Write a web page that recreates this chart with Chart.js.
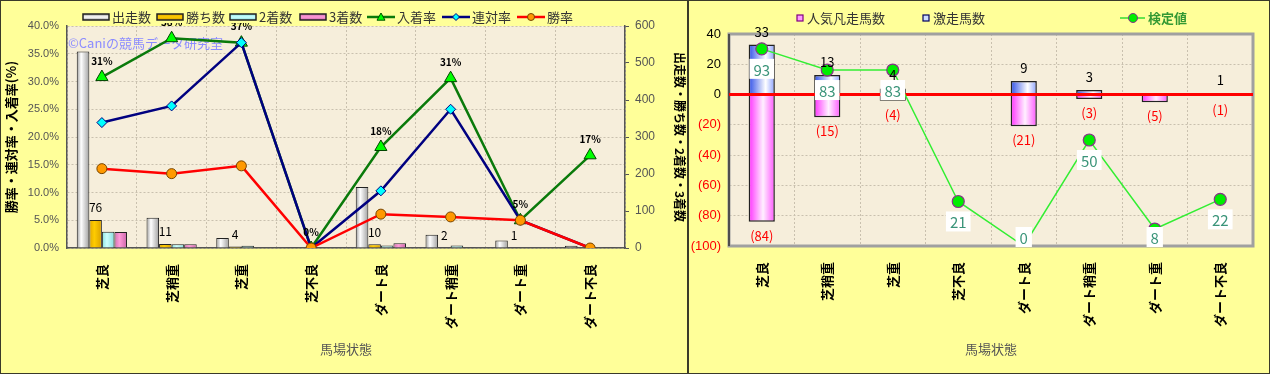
<!DOCTYPE html>
<html>
<head>
<meta charset="utf-8">
<script src="https://cdn.jsdelivr.net/npm/chart.js@4/dist/chart.umd.min.js"></script>
<style>
body { margin: 0; width: 1270px; height: 374px; overflow: hidden; background: #fff; }
.panel { position: absolute; top: 0; height: 372px; border: 1px solid #3a3a2a; background: #ffff99; }
#p1 { left: 0; width: 686px; }
#p2 { left: 688px; width: 580px; }
canvas { display: block; }
</style>
</head>
<body>
<div class="panel" id="p1"><canvas id="leftChart" width="686" height="372"></canvas></div>
<div class="panel" id="p2"><canvas id="rightChart" width="580" height="372"></canvas></div>
<script>
// 馬場状態ごとの成績
const categories = ["芝良", "芝稍重", "芝重", "芝不良", "ダート良", "ダート稍重", "ダート重", "ダート不良"]
const starters = [531, 82, 27, 2, 165, 36, 20, 6]
const wins = [76, 11, 4, 0, 10, 2, 1, 0]
const seconds = [44, 10, 6, 0, 7, 7, 0, 0]
const thirds = [43, 10, 0, 0, 13, 2, 0, 1]
const placeRate = [30.8, 37.8, 37.0, 0, 18.2, 30.6, 5.0, 16.7]
const quinellaRate = [22.6, 25.6, 37.0, 0, 10.3, 25.0, 5.0, 0]
const winRate = [14.3, 13.4, 14.8, 0, 6.1, 5.6, 5.0, 0]

// 激走 / 人気凡走 / 検定値
const upsetCount = [33, 13, 4, 0, 9, 3, 0, 1]
const favFailCount = [-84, -15, -4, 0, -21, -3, -5, -1]
const testValue = [93, 83, 83, 21, 0, 50, 8, 22]

Chart.defaults.animation = false
Chart.defaults.font.family = '"Liberation Sans", "Noto Sans CJK JP", sans-serif'
const JP = '"Noto Sans CJK JP", "Liberation Sans", sans-serif'

const plotBg = "#f6eedb"
const gridColor = "#c9c0ae"

// horizontal "cylinder" gradient for a bar, computed from the category scale
function barFill(slot, nSlots, frac, stops) {
  return (c) => {
    const chart = c.chart
    const xs = chart.scales.x
    if (c.type !== "data" || !xs) return stops[1][1]
    const cw = xs.width / categories.length
    const group = cw * frac
    const bw = group / nSlots
    const left = xs.getPixelForValue(c.dataIndex) - group / 2 + slot * bw
    if (!isFinite(left) || !isFinite(bw) || bw <= 0) return stops[1][1]
    const g = chart.ctx.createLinearGradient(left, 0, left + bw, 0)
    stops.forEach(([o, col]) => g.addColorStop(o, col))
    return g
  }
}

const greyStops = [[0, "#9a9a9a"], [0.35, "#ffffff"], [1, "#a0a0a0"]]
const goldStops = [[0, "#e0a800"], [0.4, "#ffcc00"], [1, "#d9a000"]]
const cyanStops = [[0, "#88e0e0"], [0.4, "#ccffff"], [1, "#88dddd"]]
const pinkStops = [[0, "#d070b0"], [0.4, "#ff9ad8"], [1, "#cc66aa"]]
const blueStops = [[0, "#3050e8"], [0.65, "#ffffff"], [1, "#8aa0ff"]]
const magStops = [[0, "#ff30ff"], [0.55, "#fff0ff"], [1, "#ff55ff"]]

const plotBackground = {
  id: "plotBackground",
  beforeDraw(chart) {
    const { ctx, chartArea: a } = chart
    ctx.save()
    ctx.fillStyle = plotBg
    ctx.fillRect(a.left, a.top, a.right - a.left, a.bottom - a.top)
    ctx.restore()
  },
}

function drawLineMarker(ctx, style, x, y, r, fill, stroke) {
  ctx.fillStyle = fill
  ctx.strokeStyle = stroke
  ctx.lineWidth = 1
  ctx.beginPath()
  if (style === "triangle") {
    ctx.moveTo(x, y - r)
    ctx.lineTo(x + r, y + r * 0.8)
    ctx.lineTo(x - r, y + r * 0.8)
    ctx.closePath()
  } else if (style === "diamond") {
    ctx.moveTo(x, y - r)
    ctx.lineTo(x + r, y)
    ctx.lineTo(x, y + r)
    ctx.lineTo(x - r, y)
    ctx.closePath()
  } else {
    ctx.arc(x, y, r, 0, Math.PI * 2)
  }
  ctx.fill()
  ctx.stroke()
}

// ---- left chart ----
const leftExtras = {
  id: "leftExtras",
  beforeDatasetsDraw(chart) {
    const { ctx, chartArea: a } = chart
    ctx.save()
    ctx.font = "13px " + JP
    ctx.fillStyle = "#8c8cff"
    ctx.textBaseline = "middle"
    ctx.fillText("©Caniの競馬データ研究室", a.left + 1, 42)
    ctx.restore()
  },
  afterDatasetsDraw(chart) {
    const ctx = chart.ctx
    ctx.save()
    ctx.textAlign = "center"
    ctx.textBaseline = "middle"
    ctx.fillStyle = "#000"
    // 勝ち数 labels
    ctx.font = "12px " + JP
    chart.getDatasetMeta(1).data.forEach((el, i) => {
      if (wins[i] > 0) ctx.fillText(String(wins[i]), el.x, el.y - 12)
    })
    // 入着率 labels
    ctx.font = "bold 10px " + JP
    chart.getDatasetMeta(4).data.forEach((el, i) => {
      ctx.fillText(Math.round(placeRate[i]) + "%", el.x, el.y - 16)
    })
    ctx.restore()
  },
  afterDraw(chart) {
    const ctx = chart.ctx
    ctx.save()
    ctx.fillStyle = "#ffff99"
    ctx.fillRect(78, 6, 498, 16)
    const y = 16
    const bars = [
      ["出走数", 82, greyStops],
      ["勝ち数", 156, goldStops],
      ["2着数", 229, cyanStops],
      ["3着数", 299, pinkStops],
    ]
    ctx.font = "13px " + JP
    ctx.textBaseline = "middle"
    bars.forEach(([t, x, stops]) => {
      const g = ctx.createLinearGradient(0, y - 3, 0, y + 3)
      g.addColorStop(0, stops[0][1])
      g.addColorStop(0.5, stops[1][1])
      g.addColorStop(1, stops[2][1])
      ctx.fillStyle = g
      ctx.fillRect(x, y - 3, 26, 6)
      ctx.strokeStyle = "#222"
      ctx.lineWidth = 1.5
      ctx.strokeRect(x, y - 3, 26, 6)
      ctx.fillStyle = "#333"
      ctx.fillText(t, x + 29, y)
    })
    const lines = [
      ["入着率", 366, "#0a7a0a", "triangle", "#00ff00", "#005500", 4],
      ["連対率", 441, "#000080", "diamond", "#00ffff", "#000080", 3.5],
      ["勝率", 516, "#ff0000", "circle", "#ff9900", "#774400", 3.5],
    ]
    lines.forEach(([t, x, col, st, fill, stroke, r]) => {
      ctx.strokeStyle = col
      ctx.lineWidth = 2.5
      ctx.beginPath()
      ctx.moveTo(x, y)
      ctx.lineTo(x + 28, y)
      ctx.stroke()
      drawLineMarker(ctx, st, x + 14, y, r, fill, stroke)
      ctx.fillStyle = "#333"
      ctx.fillText(t, x + 30, y)
    })
    ctx.restore()
  },
}

const leftCat = 0.72
const barBase = { type: "bar", yAxisID: "y2", order: 10, borderColor: "#222", borderWidth: 1, barPercentage: 1, categoryPercentage: leftCat }

new Chart(document.getElementById("leftChart"), {
  type: "bar",
  data: {
    labels: categories,
    datasets: [
      { ...barBase, label: "出走数", data: starters, backgroundColor: barFill(0, 4, leftCat, greyStops) },
      { ...barBase, label: "勝ち数", data: wins, backgroundColor: barFill(1, 4, leftCat, goldStops) },
      { ...barBase, label: "2着数", data: seconds, backgroundColor: barFill(2, 4, leftCat, cyanStops) },
      { ...barBase, label: "3着数", data: thirds, backgroundColor: barFill(3, 4, leftCat, pinkStops) },
      {
        type: "line", label: "入着率", data: placeRate, yAxisID: "y", order: 3,
        borderColor: "#0a7a0a", borderWidth: 2.5, tension: 0,
        pointStyle: "triangle", pointRadius: 7, pointBackgroundColor: "#00ff00", pointBorderColor: "#004400", pointBorderWidth: 1,
      },
      {
        type: "line", label: "連対率", data: quinellaRate, yAxisID: "y", order: 2,
        borderColor: "#000080", borderWidth: 2.5, tension: 0,
        pointStyle: "rectRot", pointRadius: 5, pointBackgroundColor: "#00ffff", pointBorderColor: "#000080", pointBorderWidth: 1,
      },
      {
        type: "line", label: "勝率", data: winRate, yAxisID: "y", order: 1,
        borderColor: "#ff0000", borderWidth: 2.5, tension: 0,
        pointStyle: "circle", pointRadius: 5, pointBackgroundColor: "#ff9900", pointBorderColor: "#774400", pointBorderWidth: 1,
      },
    ],
  },
  options: {
    responsive: false,
    devicePixelRatio: 1,
    layout: { padding: { top: 25, left: 0, right: 0, bottom: 0 } },
    plugins: { legend: { display: false }, tooltip: { enabled: false } },
    scales: {
      x: {
        grid: { color: gridColor, drawTicks: false },
        border: { color: "#555", width: 1.5, dash: [2, 2] },
        ticks: { autoSkip: false, minRotation: 90, maxRotation: 90, padding: 16, color: "#000", font: { family: JP, size: 13, weight: "bold" } },
        title: { display: true, text: "馬場状態", color: "#555", font: { family: JP, size: 13 }, padding: { top: 0, bottom: 16 } },
        afterFit: (s) => { s.height = 125 },
      },
      y: {
        position: "left",
        min: 0, max: 40,
        grid: { color: gridColor, drawTicks: false },
        border: { color: "#555", width: 1.5, dash: [2, 2] },
        ticks: { stepSize: 5, padding: 8, color: "#555", font: { size: 11 }, callback: (v) => v.toFixed(1) + "%" },
        title: { display: true, text: "勝率・連対率・入着率(%)", color: "#000", font: { family: JP, size: 13, weight: "bold" }, padding: { top: 2, bottom: 0 } },
        afterFit: (s) => { s.width = 66 },
      },
      y2: {
        position: "right",
        min: 0, max: 600,
        grid: { drawOnChartArea: false, tickLength: 4, color: "#555" },
        border: { color: "#555", width: 1.5 },
        ticks: { stepSize: 100, padding: 6, color: "#555", font: { size: 12 } },
        title: { display: true, text: "出走数・勝ち数・2着数・3着数", color: "#000", font: { family: JP, size: 12, weight: "bold" }, padding: { top: 0, bottom: 4 } },
        afterFit: (s) => { s.width = 62 },
      },
    },
  },
  plugins: [plotBackground, leftExtras],
})

// ---- right chart ----
const rightExtras = {
  id: "rightExtras",
  beforeDatasetsDraw(chart) {
    const { ctx, chartArea: a } = chart
    ctx.save()
    ctx.strokeStyle = "#a0a0a0"
    ctx.lineWidth = 3
    ctx.strokeRect(a.left, a.top, a.right - a.left, a.bottom - a.top)
    ctx.strokeStyle = "#333"
    ctx.lineWidth = 1.5
    ctx.beginPath()
    ctx.moveTo(a.left, a.top)
    ctx.lineTo(a.left, a.bottom)
    ctx.stroke()
    ctx.restore()
  },
  beforeDatasetDraw(chart, args) {
    if (args.meta.type !== "line") return
    const { ctx, chartArea: a } = chart
    const y0 = chart.scales.y.getPixelForValue(0)
    ctx.save()
    ctx.strokeStyle = "#ff0000"
    ctx.lineWidth = 3
    ctx.beginPath()
    ctx.moveTo(a.left, y0)
    ctx.lineTo(a.right, y0)
    ctx.stroke()
    ctx.restore()
  },
  afterDatasetsDraw(chart) {
    const { ctx, chartArea: a } = chart
    ctx.save()
    ctx.textAlign = "center"
    ctx.textBaseline = "middle"
    ctx.font = "13px " + JP
    chart.getDatasetMeta(2).data.forEach((el, i) => {
      if (upsetCount[i] > 0) {
        ctx.fillStyle = "#000"
        ctx.fillText(String(upsetCount[i]), el.x, el.y - 13)
      }
    })
    chart.getDatasetMeta(1).data.forEach((el, i) => {
      if (favFailCount[i] < 0) {
        ctx.fillStyle = "#ff0000"
        ctx.fillText("(" + (-favFailCount[i]) + ")", el.x, el.y + 14)
      }
    })
    ctx.font = "15px " + JP
    chart.getDatasetMeta(0).data.forEach((el, i) => {
      const t = String(testValue[i])
      const w = ctx.measureText(t).width + 8
      const cy = Math.min(el.y + 20, a.bottom - 9)
      ctx.fillStyle = "#ffffff"
      ctx.fillRect(el.x - w / 2, cy - 10, w, 20)
      ctx.fillStyle = "#3a9479"
      ctx.fillText(t, el.x, cy + 1)
    })
    ctx.restore()
  },
  afterDraw(chart) {
    const ctx = chart.ctx
    ctx.save()
    const y = 17
    ctx.font = "13px " + JP
    ctx.textBaseline = "middle"
    ;[["人気凡走馬数", 108, "#ff99ff", "#800080"], ["激走馬数", 234, "#ccddff", "#000060"]].forEach(([t, x, f, s]) => {
      ctx.fillStyle = f
      ctx.fillRect(x, y - 3, 6, 6)
      ctx.strokeStyle = s
      ctx.lineWidth = 1.2
      ctx.strokeRect(x, y - 3, 6, 6)
      ctx.fillStyle = "#333"
      ctx.fillText(t, x + 10, y)
    })
    ctx.strokeStyle = "#33dd33"
    ctx.lineWidth = 1.5
    ctx.beginPath()
    ctx.moveTo(431, y)
    ctx.lineTo(456, y)
    ctx.stroke()
    drawLineMarker(ctx, "circle", 444, y, 4.5, "#00ee00", "#883388")
    ctx.fillStyle = "#339933"
    ctx.font = "bold 13px " + JP
    ctx.fillText("検定値", 459, y)
    ctx.restore()
  },
}

const rightFrac = 0.4
new Chart(document.getElementById("rightChart"), {
  type: "bar",
  data: {
    labels: categories,
    datasets: [
      {
        type: "line", label: "検定値", data: testValue, yAxisID: "y2", order: 0,
        borderColor: "#33ee33", borderWidth: 1.5, tension: 0,
        pointRadius: 6, pointBackgroundColor: "#00ee00", pointBorderColor: "#883388", pointBorderWidth: 1.2,
      },
      {
        label: "人気凡走馬数", data: favFailCount, yAxisID: "y", order: 5, stack: "s",
        backgroundColor: barFill(0, 1, rightFrac, magStops), borderColor: "#222", borderWidth: 1.5,
        barPercentage: rightFrac, categoryPercentage: 1,
      },
      {
        label: "激走馬数", data: upsetCount, yAxisID: "y", order: 5, stack: "s",
        backgroundColor: barFill(0, 1, rightFrac, blueStops), borderColor: "#222", borderWidth: 1.5,
        barPercentage: rightFrac, categoryPercentage: 1,
      },
    ],
  },
  options: {
    responsive: false,
    devicePixelRatio: 1,
    layout: { padding: { top: 33, left: 0, right: 16, bottom: 0 } },
    plugins: { legend: { display: false }, tooltip: { enabled: false } },
    scales: {
      x: {
        stacked: true,
        grid: { color: gridColor, drawTicks: false },
        border: { color: "#a0a0a0", width: 2, dash: [2, 2] },
        ticks: { autoSkip: false, minRotation: 90, maxRotation: 90, padding: 16, color: "#000", font: { family: JP, size: 13, weight: "bold" } },
        title: { display: true, text: "馬場状態", color: "#555", font: { family: JP, size: 13 }, padding: { top: 0, bottom: 16 } },
        afterFit: (s) => { s.height = 127 },
      },
      y: {
        stacked: true,
        min: -100, max: 40,
        grid: { color: gridColor, drawTicks: false },
        border: { color: "#333", width: 1.5, dash: [2, 2] },
        ticks: {
          stepSize: 20, padding: 8, font: { size: 13 },
          color: (c) => (c.tick && c.tick.value < 0 ? "#ff0000" : "#000"),
          callback: (v) => (v < 0 ? "(" + -v + ")" : String(v)),
        },
        afterFit: (s) => { s.width = 40 },
      },
      y2: { display: false, min: 0, max: 100 },
    },
  },
  plugins: [plotBackground, rightExtras],
})
</script>
</body>
</html>
